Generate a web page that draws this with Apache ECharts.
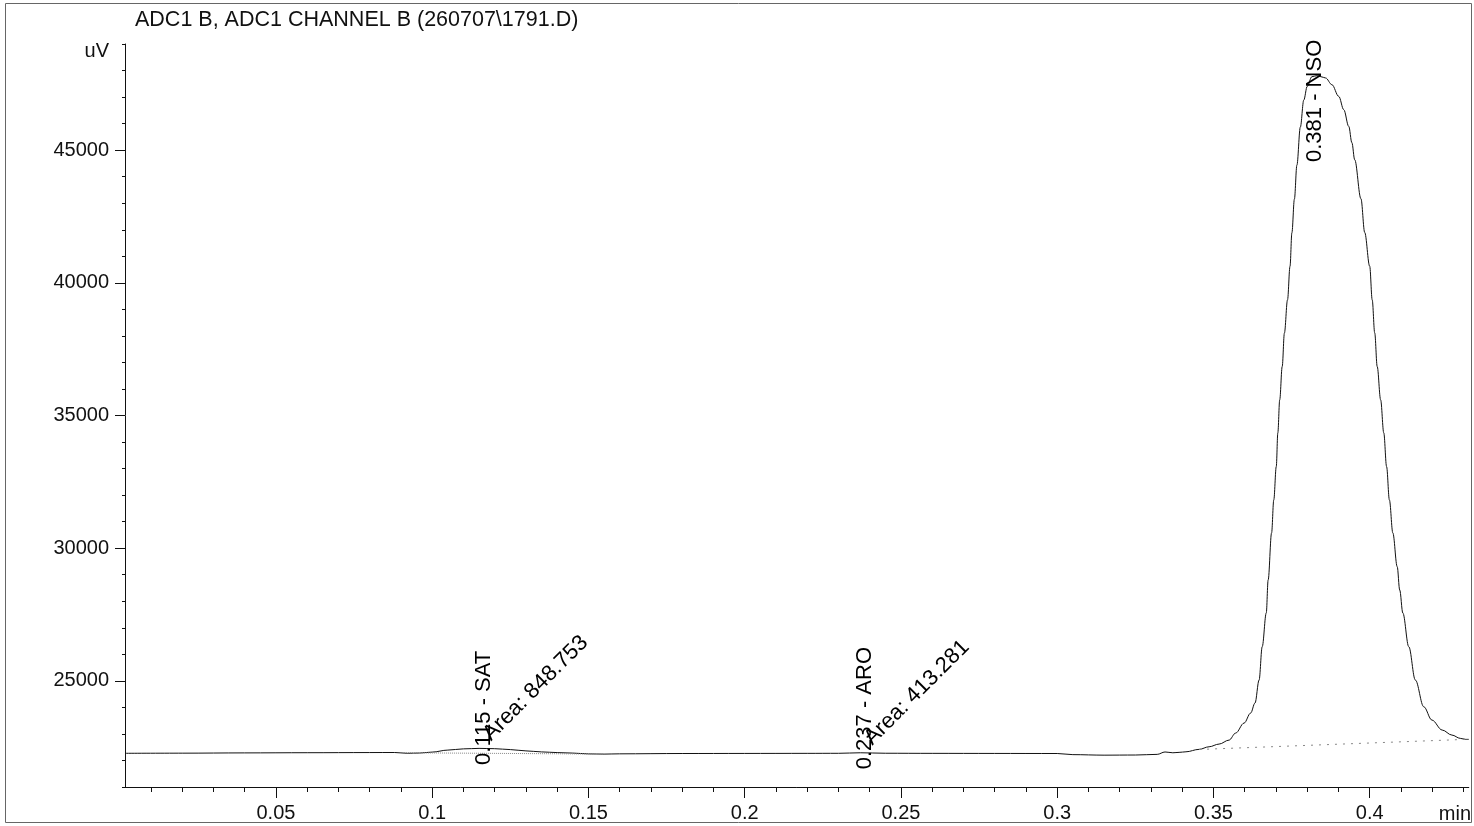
<!DOCTYPE html>
<html><head><meta charset="utf-8">
<script src="https://cdn.jsdelivr.net/npm/echarts@6/dist/echarts.min.js"></script>
<style>html,body{margin:0;padding:0;background:#fff}#c{width:1474px;height:826px}</style>
</head><body><div id="c"></div>
<script>
// ---- data ----
const chartTitle = 'ADC1 B, ADC1 CHANNEL B (260707\\1791.D)';
const xUnit = 'min';
const yUnit = 'uV';
const times = [0.0017,0.02,0.04,0.06,0.08,0.088,0.092,0.096,0.100,0.105,0.110,0.115,0.120,0.125,0.130,0.135,0.140,0.145,0.150,0.155,0.160,0.180,0.200,0.220,0.230,0.237,0.245,0.260,0.280,0.300,0.305,0.315,0.325,0.332,0.3345,0.337,0.339,0.3412,0.3454,0.3486,0.3518,0.3550,0.3571,0.3598,0.3619,0.3633,0.3646,0.3656,0.3669,0.3675,0.3686,0.3693,0.3701,0.3706,0.3712,0.3720,0.3727,0.3737,0.3745,0.3751,0.3759,0.3767,0.3778,0.3789,0.3800,0.3815,0.3831,0.3844,0.3859,0.3879,0.3901,0.3917,0.3933,0.3943,0.3952,0.3972,0.3984,0.4000,0.4008,0.4016,0.4024,0.4035,0.4045,0.4054,0.4063,0.4074,0.4088,0.4096,0.4106,0.4125,0.4146,0.4173,0.4199,0.4232,0.4263,0.4290,0.4307,0.4317];
const signal = [22270,22275,22285,22292,22298,22300,22270,22280,22316,22391,22437,22455,22444,22410,22361,22323,22297,22278,22248,22240,22250,22262,22265,22268,22270,22290,22272,22268,22265,22262,22220,22200,22205,22230,22320,22290,22305,22327,22418,22516,22618,22768,23032,23409,23786,24164,25031,26287,27557,28802,30574,31818,33074,34345,35589,36845,38104,39358,40623,41885,43153,44435,45868,46886,47402,47768,47806,47768,47719,47467,47025,46524,45894,45280,44637,43168,41897,40623,39358,38115,36845,35589,34345,33074,31818,30574,29303,28425,27557,26287,25031,24024,23523,23146,22957,22833,22795,22795];
const satBaselineT = [0.091, 0.155];
const satBaselineV = [22290, 22240];
const nsoBaselineT = [0.3454, 0.4307];
const nsoBaselineV = [22414, 22795];
const peakTimes = [0.115, 0.237, 0.381];
const peakNames = ['SAT', 'ARO', 'NSO'];
const peakApex = [22455, 22290, 47700];
const peakAreas = [848.753, 413.281, null];
const xTickLabels = [0.05, 0.1, 0.15, 0.2, 0.25, 0.3, 0.35, 0.4];
const yTickLabels = [25000, 30000, 35000, 40000, 45000];
const X_MIN = 0.0017, X_MAX = 0.4317, Y_MIN = 21000, Y_MAX = 49000;

// ---- chart ----
const FONT = "'Liberation Sans', Arial, sans-serif";
const INK = '#111';
const minorX = [];
for (let k = 1; k <= 43; k++) minorX.push(k / 100);

const chart = echarts.init(document.getElementById('c'), null, {renderer: 'canvas'});
const axisLineStyle = {color: INK, width: 1};

const nameLabels = peakTimes.map((t, i) => ({
  value: [t, peakApex[i]],
  label: {position: i === 2 ? [-6, 84] : [-6, 17]}
}));
const areaLabels = [];
peakTimes.forEach((t, i) => { if (peakAreas[i] != null) areaLabels.push({value: [t, peakApex[i]], area: peakAreas[i]}); });

const labelText = {fontFamily: FONT, fontSize: 22, color: '#000', fontWeight: 'normal', opacity: 1};

chart.setOption({
  animation: false,
  backgroundColor: '#fff',
  title: {text: chartTitle, left: 130, top: 4,
    textStyle: {fontFamily: FONT, fontSize: 21.5, fontWeight: 'normal', color: INK}},
  graphic: [{type: 'rect', shape: {x: 5.5, y: 3.5, width: 1466, height: 819},
    style: {fill: 'none', stroke: '#666', lineWidth: 1}, silent: true, z: -1}],
  grid: {left: 125, right: 4, top: 44, bottom: 39, containLabel: false},
  xAxis: [{
    type: 'value', min: X_MIN, max: X_MAX, position: 'bottom',
    name: xUnit, nameLocation: 'end', nameGap: -30,
    nameTextStyle: {fontFamily: FONT, fontSize: 20, color: INK, align: 'left', verticalAlign: 'top', padding: [17, 0, 0, 0]},
    axisLine: {show: true, lineStyle: axisLineStyle},
    axisTick: {show: true, customValues: minorX, length: 5, lineStyle: axisLineStyle},
    axisLabel: {show: true, customValues: xTickLabels, margin: 16, fontFamily: FONT, fontSize: 20, color: INK,
      formatter: v => String(v)},
    splitLine: {show: false}
  }, {
    type: 'value', min: X_MIN, max: X_MAX, position: 'bottom',
    axisLine: {show: false},
    axisTick: {show: true, customValues: xTickLabels, length: 11, lineStyle: axisLineStyle},
    axisLabel: {show: false},
    splitLine: {show: false}
  }],
  yAxis: [{
    type: 'value', min: Y_MIN, max: Y_MAX, position: 'left',
    axisLine: {show: true, lineStyle: axisLineStyle},
    axisTick: {show: true, customValues: yTickLabels, length: 10, lineStyle: axisLineStyle},
    axisLabel: {show: true, customValues: yTickLabels.concat([Y_MAX]), margin: 16, fontFamily: FONT, fontSize: 20, color: INK,
      formatter: v => v === Y_MAX ? '{u|' + yUnit + '}' : String(v),
      rich: {u: {fontFamily: FONT, fontSize: 20, color: INK, padding: [14, 0, 0, 0]}}},
    splitLine: {show: false}
  }, {
    type: 'value', min: Y_MIN, max: Y_MAX, interval: 1000, position: 'left',
    axisLine: {show: false},
    axisTick: {show: true, length: 3, lineStyle: axisLineStyle},
    axisLabel: {show: false},
    splitLine: {show: false}
  }],
  series: [{
    type: 'line', name: 'signal', xAxisIndex: 0, yAxisIndex: 0,
    data: times.map((t, i) => [t, signal[i]]),
    showSymbol: false, smooth: 0.35, smoothMonotone: 'x',
    lineStyle: {color: INK, width: 1}, silent: true, z: 3
  }, {
    type: 'line', name: 'satBase', data: satBaselineT.map((t, i) => [t, satBaselineV[i]]),
    showSymbol: false, lineStyle: {color: '#888', width: 1, type: 'dotted'}, silent: true
  }, {
    type: 'line', name: 'nsoBase', data: nsoBaselineT.map((t, i) => [t, nsoBaselineV[i]]),
    showSymbol: false, lineStyle: {color: '#888', width: 1, type: [2, 6]}, silent: true
  }, {
    type: 'scatter', name: 'peakNames', data: nameLabels, symbolSize: 1,
    itemStyle: {color: 'rgba(0,0,0,0)'}, silent: true, emphasis: {disabled: true}, z: 5,
    label: Object.assign({show: true, rotate: 90, align: 'left', verticalAlign: 'top',
      formatter: p => peakTimes[p.dataIndex].toFixed(3) + ' - ' + peakNames[p.dataIndex]}, labelText)
  }, {
    type: 'scatter', name: 'peakAreas', data: areaLabels, symbolSize: 1,
    itemStyle: {color: 'rgba(0,0,0,0)'}, silent: true, emphasis: {disabled: true}, z: 5,
    label: Object.assign({show: true, rotate: 45, align: 'left', verticalAlign: 'bottom', position: [16, -3],
      formatter: p => 'Area: ' + areaLabels[p.dataIndex].area}, labelText)
  }]
});
</script></body></html>
